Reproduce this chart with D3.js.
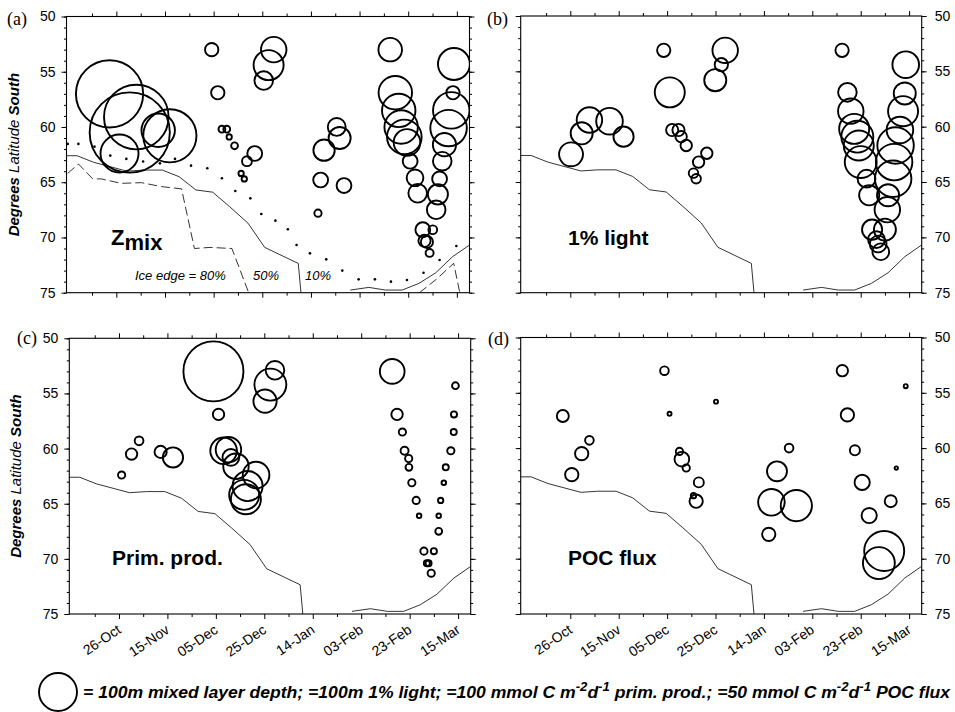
<!DOCTYPE html>
<html>
<head>
<meta charset="utf-8">
<script src="https://cdnjs.cloudflare.com/ajax/libs/d3/7.8.5/d3.min.js"></script>
<style>
  body { margin: 0; background: #fff; }
  svg { display: block; font-family: "Liberation Sans", Arial, Helvetica, sans-serif; }
</style>
</head>
<body>
<svg id="chart" width="955" height="712"></svg>
<script>
// x = day of year 1997 (values above 365 are in 1998)
const dayDomain = [278.5, 444.2];
const dateTicks = [299, 319, 339, 359, 379, 399, 419, 439];
const dateLabels = ["26-Oct", "15-Nov", "05-Dec", "25-Dec", "14-Jan", "03-Feb", "23-Feb", "15-Mar"];
const minorDateTicks = [289, 309, 329, 349, 369, 389, 409, 429];
const latTicks = [50, 55, 60, 65, 70, 75];

// [day, latitude, value]
const zmix = [
  [296.2, 57.0, 177], [307.2, 59.1, 170], [304.5, 60.5, 211], [300.3, 62.4, 100],
  [316.2, 60.3, 88], [321.0, 60.8, 140],
  [338.2, 53.0, 35], [340.7, 56.9, 35], [342.4, 60.2, 18], [344.4, 60.2, 18],
  [345.4, 60.9, 14], [347.6, 61.7, 18], [352.7, 63.1, 26], [355.9, 62.4, 39],
  [350.3, 64.2, 14], [351.6, 64.7, 14], [363.7, 53.0, 67], [361.6, 54.4, 79],
  [359.6, 55.8, 49],
  [389.6, 60.0, 47], [390.8, 61.0, 58], [384.4, 62.1, 56], [383.0, 64.8, 39],
  [392.6, 65.3, 39], [381.9, 67.8, 19],
  [411.6, 53.0, 62], [413.7, 56.9, 88], [415.1, 58.5, 88], [416.1, 60.0, 88],
  [417.4, 60.9, 91], [418.5, 61.4, 70], [419.8, 63.1, 39], [421.8, 64.6, 44],
  [422.9, 66.0, 49], [425.0, 69.3, 39], [425.7, 70.3, 32], [426.7, 70.4, 32],
  [427.8, 71.4, 21], [429.1, 69.3, 23],
  [437.8, 54.3, 84], [437.4, 56.9, 35], [436.7, 58.5, 96], [435.6, 60.1, 96],
  [433.9, 61.6, 61], [433.0, 63.1, 49], [431.9, 64.7, 39], [431.2, 66.1, 53],
  [430.5, 67.5, 49]
];

const light1 = [
  [299.3, 62.5, 63], [303.7, 60.6, 58], [306.9, 59.4, 67], [315.2, 59.5, 70],
  [321.0, 60.9, 53],
  [337.6, 53.1, 35], [340.1, 56.9, 79], [341.1, 60.3, 32], [343.7, 60.3, 32],
  [344.8, 60.9, 30], [346.9, 61.7, 30], [355.4, 62.4, 30], [352.0, 63.2, 30],
  [349.9, 64.2, 25], [351.0, 64.7, 25], [363.0, 53.1, 67], [361.4, 54.4, 35],
  [358.9, 55.8, 58],
  [411.3, 53.1, 35], [413.5, 56.9, 49], [414.9, 58.6, 67], [416.3, 60.2, 79],
  [417.6, 60.9, 84], [418.2, 61.7, 79], [419.0, 63.2, 84], [421.4, 64.7, 47],
  [422.5, 66.2, 53], [423.7, 69.3, 53], [425.5, 70.2, 44], [426.2, 70.6, 44],
  [427.3, 71.3, 44], [429.0, 69.3, 58], [430.0, 67.5, 67], [430.3, 66.2, 58],
  [432.4, 64.7, 96], [432.8, 63.2, 96], [433.4, 61.7, 96], [435.2, 60.3, 70],
  [436.5, 58.6, 79], [437.2, 57.0, 58], [437.6, 54.4, 70]
];

const primProd = [
  [300.1, 62.4, 19], [304.2, 60.5, 30], [307.3, 59.3, 23], [316.2, 60.3, 32],
  [321.3, 60.8, 53],
  [338.0, 53.0, 158], [340.1, 56.9, 30], [342.2, 60.2, 70], [344.2, 60.1, 67],
  [345.2, 60.8, 44], [347.3, 61.6, 67], [355.6, 62.4, 70], [352.1, 63.4, 79],
  [350.7, 64.2, 79], [351.4, 64.6, 79], [363.4, 52.9, 49], [361.5, 54.2, 84],
  [359.3, 55.7, 61],
  [411.8, 53.0, 65], [413.8, 56.9, 30], [416.0, 58.5, 19], [416.9, 60.2, 21],
  [418.6, 60.9, 19], [418.7, 61.7, 18], [419.9, 63.1, 19], [421.7, 64.7, 19],
  [422.9, 66.1, 12], [424.9, 69.3, 19], [426.1, 70.4, 16], [426.8, 70.4, 16],
  [427.9, 71.3, 19], [429.0, 69.3, 16], [431.0, 67.5, 18], [431.0, 66.1, 12],
  [431.8, 64.7, 14], [433.1, 63.1, 12], [433.9, 61.7, 16], [436.0, 60.2, 19],
  [437.2, 58.5, 16], [437.3, 56.9, 16], [437.9, 54.3, 18]
];

const pocFlux = [
  [295.9, 57.1, 15.8], [299.6, 62.4, 17.5], [303.7, 60.5, 17.5], [306.9, 59.3, 11.4],
  [337.9, 53.0, 11.4], [340.0, 56.9, 5.3], [344.1, 60.3, 9.6], [345.1, 61.0, 19.3],
  [346.9, 61.8, 9.6], [349.9, 64.3, 7], [351.0, 64.8, 17.5], [352.1, 63.1, 13.2],
  [359.2, 55.8, 5.3],
  [389.4, 60.0, 11.4], [384.4, 62.1, 26.3], [382.1, 64.9, 35], [392.4, 65.2, 41],
  [381.0, 67.8, 17.5],
  [411.4, 53.0, 15], [413.5, 57.0, 17.5], [416.6, 60.2, 13.2], [419.6, 63.1, 20],
  [422.5, 66.1, 20], [428.7, 69.3, 52.6], [426.5, 70.4, 42], [431.4, 64.8, 15.8],
  [433.7, 61.8, 4.4], [437.6, 54.4, 5.3]
];

// ice edge positions [day, latitude]
const ice50West = [
  [278.2, 62.6], [282.8, 62.6], [289.7, 63.2], [303.4, 64.0], [310.3, 63.9],
  [317.9, 63.9], [324.8, 64.5], [331.7, 65.7], [338.6, 65.9], [345.5, 67.2],
  [353.1, 68.7], [360.0, 70.9], [373.8, 72.35], [374.9, 75.0]
];
const ice50East = [
  [395.2, 74.76], [402.8, 74.52], [409.7, 74.76], [416.5, 74.76], [423.4, 74.16],
  [430.3, 73.2], [437.2, 71.75], [444.1, 70.7]
];
const ice80West = [
  [279.0, 64.2], [283.4, 63.35], [289.3, 64.7], [292.8, 64.7], [301.0, 65.1],
  [309.3, 65.04], [317.6, 65.4], [325.8, 65.6], [331.1, 71.0], [337.5, 70.9],
  [346.5, 71.0], [353.4, 75.0]
];
const ice80East = [[423.6, 75.0], [430.5, 73.8], [437.7, 72.34], [440.2, 75.0]];
const ice10 = [
  [279.0, 61.53], [283.4, 61.53], [290.0, 61.78], [296.5, 62.59], [303.1, 62.89],
  [310.0, 63.13], [316.9, 63.29], [323.1, 62.89], [329.7, 63.5], [336.4, 63.74],
  [342.4, 64.64], [347.9, 65.79], [354.1, 66.46], [358.6, 67.87], [364.4, 68.48],
  [369.5, 69.26], [373.1, 70.68], [378.6, 71.44], [385.3, 71.98], [391.9, 73.0],
  [398.6, 73.79], [405.3, 73.79], [411.9, 74.0], [418.5, 73.85], [425.3, 73.19],
  [431.9, 72.04], [438.8, 70.77]
];

const legendRadius = 19;

const svg = d3.select("#chart");

const panels = [
  {id: "a", data: zmix, unit: 100, x0: 66.5, x1: 469.5, y0: 16.5, y1: 292.7, side: "left", xLabels: false, allEdges: true, lx: 7, ly: 25},
  {id: "b", data: light1, unit: 100, x0: 520.7, x1: 921.7, y0: 16, y1: 292.7, side: "right", xLabels: false, allEdges: false, lx: 487, ly: 25},
  {id: "c", data: primProd, unit: 100, x0: 69.3, x1: 470.7, y0: 338.3, y1: 614, side: "left", xLabels: true, allEdges: false, lx: 17, ly: 344},
  {id: "d", data: pocFlux, unit: 50, x0: 520.7, x1: 921.7, y0: 337.5, y1: 614, side: "right", xLabels: true, allEdges: false, lx: 488, ly: 345}
];

panels.forEach(drawPanel);
drawLabels();
drawLegend();

function drawPanel(p) {
  const x = d3.scaleLinear().domain(dayDomain).range([p.x0, p.x1]);
  const y = d3.scaleLinear().domain([50, 75]).range([p.y0, p.y1]);
  const r = d3.scaleLinear().domain([0, p.unit]).range([0, legendRadius]);
  const g = svg.append("g");

  const clipId = "clip-" + p.id;
  svg.append("clipPath").attr("id", clipId)
    .append("rect")
    .attr("x", p.x0).attr("y", p.y0)
    .attr("width", p.x1 - p.x0).attr("height", p.y1 - p.y0);

  const inner = g.append("g").attr("clip-path", `url(#${clipId})`);
  const line = d3.line().x(d => x(d[0])).y(d => y(d[1]));

  [ice50West, ice50East].forEach(seg => {
    inner.append("path").attr("d", line(seg))
      .attr("fill", "none").attr("stroke", "#000").attr("stroke-width", 0.8);
  });

  if (p.allEdges) {
    [ice80West, ice80East].forEach(seg => {
      inner.append("path").attr("d", line(seg))
        .attr("fill", "none").attr("stroke", "#000").attr("stroke-width", 0.8)
        .attr("stroke-dasharray", "9,4");
    });
    inner.selectAll("circle.dot").data(ice10).enter()
      .append("circle").attr("class", "dot")
      .attr("cx", d => x(d[0])).attr("cy", d => y(d[1]))
      .attr("r", 1.3).attr("fill", "#000");
  }

  inner.selectAll("circle.stn").data(p.data).enter()
    .append("circle").attr("class", "stn")
    .attr("cx", d => x(d[0])).attr("cy", d => y(d[1]))
    .attr("r", d => r(d[2]))
    .attr("fill", "none").attr("stroke", "#000").attr("stroke-width", 1.9);

  // frame
  g.append("rect")
    .attr("x", p.x0).attr("y", p.y0)
    .attr("width", p.x1 - p.x0).attr("height", p.y1 - p.y0)
    .attr("fill", "none").attr("stroke", "#000").attr("stroke-width", 1.1);

  // minor latitude ticks
  [[d3.axisLeft, p.x0], [d3.axisRight, p.x1]].forEach(([fn, xx]) => {
    g.append("g").attr("transform", `translate(${xx},0)`)
      .call(fn(y).tickValues(d3.range(50, 76)).tickSize(2.5).tickFormat(""))
      .call(s => s.select(".domain").remove());
  });
  g.append("g").attr("transform", `translate(${p.x0},0)`)
    .call(d3.axisLeft(y).tickValues(latTicks).tickSize(5).tickPadding(6)
      .tickFormat(p.side === "left" ? d3.format("d") : ""))
    .call(s => s.select(".domain").remove());
  g.append("g").attr("transform", `translate(${p.x1},0)`)
    .call(d3.axisRight(y).tickValues(latTicks).tickSize(5).tickPadding(8)
      .tickFormat(p.side === "right" ? d3.format("d") : ""))
    .call(s => s.select(".domain").remove());

  [[d3.axisTop, p.y0], [d3.axisBottom, p.y1]].forEach(([fn, yy]) => {
    g.append("g").attr("transform", `translate(0,${yy})`)
      .call(fn(x).tickValues(minorDateTicks).tickSize(3).tickFormat(""))
      .call(s => s.select(".domain").remove());
    g.append("g").attr("transform", `translate(0,${yy})`)
      .call(fn(x).tickValues(dateTicks).tickSize(5).tickFormat(""))
      .call(s => s.select(".domain").remove());
  });

  g.selectAll(".tick line").attr("stroke", "#000").attr("stroke-width", 1);
  g.selectAll(".tick text")
    .attr("font-family", "'Liberation Sans', Arial, sans-serif")
    .attr("font-size", 14).attr("fill", "#000");

  if (p.xLabels) {
    g.selectAll("text.xlab").data(dateTicks).enter()
      .append("text").attr("class", "xlab")
      .attr("transform", d => `translate(${x(d) + 3},${p.y1 + 18}) rotate(-34)`)
      .attr("text-anchor", "end")
      .attr("font-size", 14)
      .text((d, i) => dateLabels[i]);
  }

  // panel letter
  svg.append("text")
    .attr("x", p.lx).attr("y", p.ly)
    .attr("font-family", "'Liberation Serif', 'Times New Roman', serif")
    .attr("font-size", 18)
    .text(`(${p.id})`);

  if (p.side === "left") {
    const t = svg.append("text")
      .attr("transform", `translate(${p.x0 - 48},${(p.y0 + p.y1) / 2}) rotate(-90)`)
      .attr("text-anchor", "middle")
      .attr("font-size", 15).attr("font-style", "italic");
    t.append("tspan").attr("font-weight", "bold").text("Degrees ");
    t.append("tspan").text("Latitude ");
    t.append("tspan").attr("font-weight", "bold").text("South");
  }
}

function drawLabels() {
  const z = svg.append("text").attr("x", 111).attr("y", 245)
    .attr("font-weight", "bold").attr("font-size", 22);
  z.append("tspan").text("Z");
  z.append("tspan").attr("dy", 5).text("mix");

  svg.append("text").attr("x", 568).attr("y", 245)
    .attr("font-weight", "bold").attr("font-size", 21).text("1% light");
  svg.append("text").attr("x", 112).attr("y", 565)
    .attr("font-weight", "bold").attr("font-size", 21).text("Prim. prod.");
  svg.append("text").attr("x", 568).attr("y", 565)
    .attr("font-weight", "bold").attr("font-size", 21).text("POC flux");

  const ice = [["Ice edge = 80%", 135], ["50%", 253], ["10%", 305]];
  ice.forEach(([s, xx]) => {
    svg.append("text").attr("x", xx).attr("y", 280)
      .attr("font-style", "italic").attr("font-size", 13).text(s);
  });
}

function drawLegend() {
  svg.append("circle").attr("cx", 58).attr("cy", 692).attr("r", legendRadius)
    .attr("fill", "none").attr("stroke", "#000").attr("stroke-width", 1.9);

  const g = svg.append("g").attr("transform", "translate(83,698)");
  const t = g.append("text").attr("x", 0).attr("y", 0)
    .attr("font-weight", "bold").attr("font-style", "italic").attr("font-size", 16);
  const parts = [
    ["= 100m mixed layer depth; =100m 1% light; =100 mmol C m", 0],
    ["-2", 1], ["d", 0], ["-1", 1],
    [" prim. prod.; =50 mmol C m", 0],
    ["-2", 1], ["d", 0], ["-1", 1],
    [" POC flux", 0]
  ];
  parts.forEach(([s, sup]) => {
    const ts = t.append("tspan").text(s);
    if (sup) ts.attr("baseline-shift", "super").attr("font-size", 12);
  });
  const w = t.node().getBBox().width;
  t.attr("transform", `scale(${869 / w},1)`);
}
</script>
</body>
</html>
